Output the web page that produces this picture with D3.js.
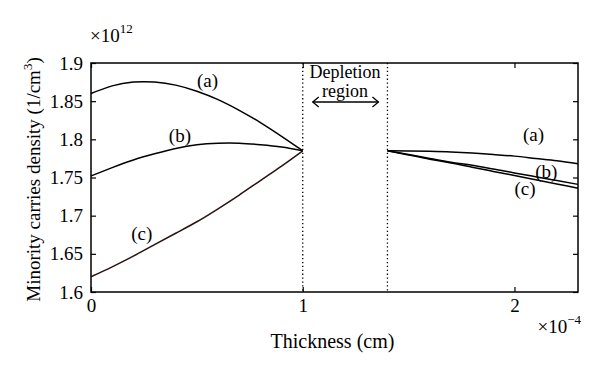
<!DOCTYPE html>
<html>
<head>
<meta charset="utf-8">
<script src="https://cdn.jsdelivr.net/npm/d3@7"></script>
<style>
  body { margin: 0; background: #fff; }
  text { font-family: "Liberation Serif", "DejaVu Serif", serif; fill: #000; }
</style>
</head>
<body>
<svg id="canvas" width="600" height="370"></svg>
<script>
// thickness in units of 1e-4 cm, density in units of 1e12 1/cm^3
const leftX = [0, 0.1, 0.2, 0.3, 0.4, 0.5, 0.6, 0.7, 0.8, 0.9, 1.0];
const leftA = [1.860, 1.870, 1.875, 1.875, 1.871, 1.863, 1.852, 1.838, 1.822, 1.804, 1.785];
const leftB = [1.752, 1.763, 1.773, 1.781, 1.788, 1.793, 1.795, 1.795, 1.793, 1.790, 1.785];
const leftC = [1.620, 1.633, 1.647, 1.662, 1.677, 1.692, 1.709, 1.727, 1.746, 1.765, 1.785];

const rightX = [1.4, 1.5, 1.6, 1.7, 1.8, 1.9, 2.0, 2.1, 2.2, 2.3];
const rightA = [1.785, 1.7848, 1.7843, 1.7835, 1.782, 1.780, 1.778, 1.775, 1.772, 1.768];
const rightB = [1.785, 1.780, 1.775, 1.770, 1.766, 1.761, 1.756, 1.751, 1.746, 1.741];
const rightC = [1.785, 1.7795, 1.774, 1.769, 1.7635, 1.758, 1.7525, 1.747, 1.7415, 1.736];

const depletionEdges = [1.0, 1.4];
const yTicks = [1.6, 1.65, 1.7, 1.75, 1.8, 1.85, 1.9];
const xTicks = [0, 1, 2];

const labels = [
    { t: "(a)", x: 0.55, y: 1.868 },
    { t: "(b)", x: 0.42, y: 1.797 },
    { t: "(c)", x: 0.24, y: 1.668 },
    { t: "(a)", x: 2.09, y: 1.798 },
    { t: "(b)", x: 2.15, y: 1.750 },
    { t: "(c)", x: 2.05, y: 1.727 }
];

const svg = d3.select("#canvas");
const margin = { left: 91, right: 22, top: 63, bottom: 78 };
const width = 600, height = 370;

const x = d3.scaleLinear().domain([0, 2.3]).range([margin.left, width - margin.right]);
const y = d3.scaleLinear().domain([1.6, 1.9]).range([height - margin.bottom, margin.top]);

const fs = 19;

// box
svg.append("rect")
    .attr("x", x(0)).attr("y", y(1.9))
    .attr("width", x(2.3) - x(0)).attr("height", y(1.6) - y(1.9))
    .attr("fill", "none").attr("stroke", "#000").attr("stroke-width", 1.5);

function styleAxis(g) {
    g.select(".domain").remove();
    g.selectAll(".tick line").attr("stroke", "#000").attr("stroke-width", 1.2);
    g.selectAll(".tick text").style("font-size", fs + "px")
        .style("font-family", "Liberation Serif, serif").attr("fill", "#000");
}

svg.append("g").attr("transform", `translate(${x(0)},0)`)
    .call(d3.axisLeft(y).tickValues(yTicks).tickSize(-5).tickPadding(8).tickFormat(d3.format("")))
    .call(styleAxis);
svg.append("g").attr("transform", `translate(${x(2.3)},0)`)
    .call(d3.axisRight(y).tickValues(yTicks).tickSize(-5).tickFormat(""))
    .call(styleAxis);
svg.append("g").attr("transform", `translate(0,${y(1.6)})`)
    .call(d3.axisBottom(x).tickValues(xTicks).tickSize(-5).tickPadding(7).tickFormat(d3.format("d")))
    .call(styleAxis);
svg.append("g").attr("transform", `translate(0,${y(1.9)})`)
    .call(d3.axisTop(x).tickValues(xTicks).tickSize(-5).tickFormat(""))
    .call(styleAxis);

// depletion boundaries
depletionEdges.forEach(d => {
    svg.append("line")
        .attr("x1", x(d)).attr("x2", x(d))
        .attr("y1", y(1.9)).attr("y2", y(1.6))
        .attr("stroke", "#000").attr("stroke-width", 1.3)
        .attr("stroke-dasharray", "1.3,2.6");
});

// curves
const line = (xs, ys) => d3.line()
    .x((d, i) => x(xs[i]))
    .y(d => y(d))
    .curve(d3.curveNatural)(ys);

[[leftX, leftA, "#000"], [leftX, leftB, "#000"], [leftX, leftC, "#2a1212"],
 [rightX, rightA, "#000"], [rightX, rightB, "#000"], [rightX, rightC, "#000"]]
    .forEach(([xs, ys, c]) => {
        svg.append("path")
            .attr("d", line(xs, ys))
            .attr("fill", "none").attr("stroke", c).attr("stroke-width", 1.5);
    });

// curve labels
svg.selectAll("text.lab").data(labels).join("text")
    .attr("class", "lab")
    .attr("x", d => x(d.x)).attr("y", d => y(d.y))
    .attr("text-anchor", "middle")
    .style("font-size", fs + "px")
    .text(d => d.t);

// depletion region annotation
const mid = (x(depletionEdges[0]) + x(depletionEdges[1])) / 2;
svg.append("text").attr("x", mid).attr("y", y(1.9) + 15)
    .attr("text-anchor", "middle").style("font-size", "18px").text("Depletion");
svg.append("text").attr("x", mid).attr("y", y(1.9) + 34)
    .attr("text-anchor", "middle").style("font-size", "18px").text("region");

const ay = y(1.9) + 39;
const ax1 = x(depletionEdges[0]) + 10, ax2 = x(depletionEdges[1]) - 9;
svg.append("line").attr("x1", ax1).attr("x2", ax2).attr("y1", ay).attr("y2", ay)
    .attr("stroke", "#000").attr("stroke-width", 1.3);
svg.append("path")
    .attr("d", `M${ax1 + 6},${ay - 5}L${ax1},${ay}L${ax1 + 6},${ay + 5}M${ax2 - 6},${ay - 5}L${ax2},${ay}L${ax2 - 6},${ay + 5}`)
    .attr("fill", "none").attr("stroke", "#000").attr("stroke-width", 1.3);

// exponent labels
const e12 = svg.append("text").attr("x", x(0) - 1).attr("y", 42).style("font-size", fs + "px");
e12.append("tspan").text("×10");
e12.append("tspan").attr("dy", -9).style("font-size", "13px").text("12");

const e4 = svg.append("text").attr("x", x(2.3) + 3).attr("y", height - margin.bottom + 41)
    .attr("text-anchor", "end").style("font-size", fs + "px");
e4.append("tspan").text("×10");
e4.append("tspan").attr("dy", -9).style("font-size", "13px").text("−4");

// axis titles
svg.append("text")
    .attr("x", (x(0) + x(2.3)) / 2 - 2).attr("y", height - 22)
    .attr("text-anchor", "middle").style("font-size", "20px")
    .text("Thickness (cm)");

const yl = svg.append("text")
    .attr("transform", `translate(40,${(y(1.6) + y(1.9)) / 2 + 2}) rotate(-90)`)
    .attr("text-anchor", "middle").style("font-size", fs + "px");
yl.append("tspan").text("Minority carries density (1/cm");
yl.append("tspan").attr("dy", -8).style("font-size", "13px").text("3");
yl.append("tspan").attr("dy", 8).text(")");
</script>
</body>
</html>
